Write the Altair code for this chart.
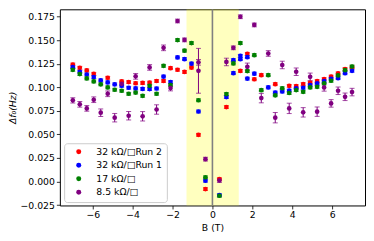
import altair as alt
import pandas as pd

FONT = "DejaVu Sans"

LABELS = ["32 kΩ/□Run 2", "32 kΩ/□Run 1", "17 kΩ/□", "8.5 kΩ/□"]
COLORS = ["#ff0000", "#0000ff", "#008000", "#800080"]

# 32 kOhm Run 2 (red)
RED_X = [-7.0, -6.65, -6.3, -5.95, -5.25, -4.55, -4.2, -3.85, -3.5, -3.15, -2.8, -2.45,
         -2.1, -1.75, -1.4, -1.05, -0.7, -0.35, 0.35, 0.7, 1.4, 1.75, 2.1, 2.45, 3.15,
         3.85, 4.2, 4.55, 4.9, 5.25, 5.6, 5.95, 6.3, 6.65, 7.0]
RED_Y = [0.1243, 0.1208, 0.1180, 0.1144, 0.1102, 0.1063, 0.1056, 0.1044, 0.1047, 0.1050,
         0.1068, 0.1068, 0.1204, 0.1187, 0.1164, 0.1210, 0.0496, -0.0080, 0.0025, 0.0791,
         0.1175, 0.1356, 0.1086, 0.1130, 0.1034, 0.1016, 0.1014, 0.1035, 0.1049, 0.1067,
         0.1088, 0.1114, 0.1148, 0.1195, 0.1215]
RED_ERR = 0.0015

# 32 kOhm Run 1 (blue)
BLUE_X = [-7.0, -6.65, -6.3, -5.95, -5.6, -5.25, -4.9, -4.55, -4.2, -3.85, -3.5, -3.15,
          -2.8, -2.45, -2.1, -1.75, -1.4, -1.05, -0.7, -0.35, 0.35, 0.7, 1.05, 1.05, 1.4,
          1.4, 1.75, 1.75, 2.1, 2.8, 3.15, 3.5, 3.85, 4.2, 4.55, 4.9, 5.25, 5.6, 5.95,
          6.3, 6.65, 7.0]
BLUE_Y = [0.1215, 0.1166, 0.1137, 0.1109, 0.1074, 0.1053, 0.1032, 0.1017, 0.0996, 0.0989,
          0.0984, 0.0982, 0.0988, 0.1115, 0.1056, 0.1318, 0.1300, 0.1252, 0.0744, 0.0009,
          -0.0145, 0.0897, 0.1289, 0.1151, 0.1335, 0.1300, 0.1321, 0.1093, 0.1146, 0.1000,
          0.0945, 0.0956, 0.0965, 0.0990, 0.0996, 0.1024, 0.1042, 0.1067, 0.1091, 0.1098,
          0.1150, 0.1176]
BLUE_ERR = 0.0015

# 17 kOhm (green)
GREEN_X = [-7.0, -6.65, -6.3, -5.95, -5.6, -5.25, -4.9, -4.55, -4.2, -3.85, -3.5, -3.15,
           -2.8, -2.45, -2.1, -1.75, -1.4, -1.05, -0.7, -0.35, 0.35, 0.7, 1.05, 1.4, 1.75,
           2.1, 2.45, 2.8, 3.15, 3.5, 3.85, 4.2, 4.55, 4.9, 5.25, 5.6, 5.95, 6.3, 6.65, 7.0]
GREEN_Y = [0.1186, 0.1141, 0.1095, 0.1063, 0.1032, 0.1000, 0.0975, 0.0964, 0.0932, 0.0945,
           0.0910, 0.1017, 0.0932, 0.1229, 0.1024, 0.1502, 0.1390, 0.1470, 0.0863, 0.0045,
           -0.0151, 0.0929, 0.1254, 0.1470, 0.1173, 0.1342, 0.0970, 0.1130, 0.0916, 0.0991,
           0.0940, 0.0971, 0.0953, 0.1000, 0.1006, 0.1042, 0.1070, 0.1127, 0.1183, 0.1222]
GREEN_ERR = 0.0015

# 8.5 kOhm (purple)
PURPLE_X = [-7.0, -6.65, -6.3, -5.95, -5.6, -5.25, -4.9, -4.55, -4.2, -3.85, -3.5, -3.15,
            -2.8, -2.45, -2.1, -1.75, -1.4, -0.7, -0.7, -0.35, 0.35, 0.7, 1.05, 1.4, 1.75,
            2.1, 2.45, 2.8, 3.15, 3.5, 3.85, 4.2, 4.55, 4.9, 5.25, 5.6, 5.95, 6.3, 6.65, 7.0]
PURPLE_Y = [0.0862, 0.0820, 0.0777, 0.0869, 0.0731, 0.0932, 0.0678, 0.1038, 0.0699, 0.1117,
            0.0693, 0.1212, 0.0765, 0.1420, 0.0993, 0.1705, 0.1504, 0.1266, 0.1176, 0.0238,
            0.0011, 0.1270, 0.1420, 0.1750, 0.1218, 0.1663, 0.0886, 0.1360, 0.0678, 0.1238,
            0.0777, 0.1166, 0.0735, 0.1112, 0.0742, 0.1000, 0.0830, 0.0964, 0.0900, 0.0950]
PURPLE_ERR = [0.0028, 0.003, 0.003, 0.003, 0.004, 0.003, 0.0045, 0.002, 0.0045, 0.003,
              0.005, 0.003, 0.005, 0.003, 0.003, 0.002, 0.002, 0.003, 0.0238, 0.002,
              0.002, 0.004, 0.002, 0.002, 0.004, 0.002, 0.005, 0.003, 0.0055, 0.004,
              0.0055, 0.004, 0.005, 0.004, 0.005, 0.004, 0.004, 0.004, 0.004, 0.004]

BAND = [-1.3, 1.32]
VLINE = [0.0]
X_TICKS = [-6, -4, -2, 0, 2, 4, 6]
Y_TICKS = [-0.025, 0.0, 0.025, 0.05, 0.075, 0.1, 0.125, 0.15, 0.175]

rows = []
def add(label, xs, ys, errs):
    for i, (xv, yv) in enumerate(zip(xs, ys)):
        e = errs[i] if isinstance(errs, list) else errs
        rows.append({"series": label, "B": xv, "df": yv, "lo": yv - e, "hi": yv + e})

add(LABELS[0], RED_X, RED_Y, RED_ERR)
add(LABELS[1], BLUE_X, BLUE_Y, BLUE_ERR)
add(LABELS[2], GREEN_X, GREEN_Y, GREEN_ERR)
add(LABELS[3], PURPLE_X, PURPLE_Y, PURPLE_ERR)
df = pd.DataFrame(rows)

W, H = 306, 196.7
xscale = alt.Scale(domain=[-7.65, 7.65], nice=False, zero=False)
yscale = alt.Scale(domain=[-0.0254, 0.1829], nice=False, zero=False)

xaxis = alt.Axis(values=X_TICKS, format="d", title="B (T)", labelOverlap=False)
yaxis = alt.Axis(values=Y_TICKS, format=".3f", title="Δf₀(Hz)", titleFontStyle="italic",
                 labelOverlap=False, tickCount=len(Y_TICKS))

band = alt.Chart(pd.DataFrame({"a": [BAND[0]], "b": [BAND[1]]})).mark_rect(
    color="#ffff00", opacity=0.25
).encode(
    x=alt.X("a:Q", scale=xscale, axis=xaxis),
    x2="b:Q",
    y=alt.value(0),
    y2=alt.value(H),
)

vline = alt.Chart(pd.DataFrame({"v": VLINE})).mark_rule(
    color="#808080", strokeWidth=1.6
).encode(x=alt.X("v:Q", scale=xscale, axis=xaxis))

def cscale():
    return alt.Scale(domain=LABELS, range=COLORS)

bars = alt.Chart(df).mark_rule(strokeWidth=1).encode(
    x=alt.X("B:Q", scale=xscale, axis=xaxis),
    y=alt.Y("lo:Q", scale=yscale, axis=yaxis),
    y2="hi:Q",
    color=alt.Color("series:N", scale=cscale(), legend=None),
)
cap_lo = alt.Chart(df).mark_tick(orient="horizontal", size=5, thickness=1).encode(
    x=alt.X("B:Q", scale=xscale, axis=xaxis),
    y=alt.Y("lo:Q", scale=yscale, axis=yaxis),
    color=alt.Color("series:N", scale=cscale(), legend=None),
)
cap_hi = alt.Chart(df).mark_tick(orient="horizontal", size=5, thickness=1).encode(
    x=alt.X("B:Q", scale=xscale, axis=xaxis),
    y=alt.Y("hi:Q", scale=yscale, axis=yaxis),
    color=alt.Color("series:N", scale=cscale(), legend=None),
)

points = alt.Chart(df).mark_circle(size=22, opacity=1).encode(
    x=alt.X("B:Q", scale=xscale, axis=xaxis),
    y=alt.Y("df:Q", scale=yscale, axis=yaxis),
    color=alt.Color("series:N", scale=cscale(),
                    sort=LABELS,
                    legend=alt.Legend(title=None, orient="none", legendX=4.3, legendY=134.3,
                                      symbolType="circle", symbolSize=25,
                                      fillColor="white", strokeColor="#cccccc",
                                      cornerRadius=3, padding=4, symbolOffset=6,
                                      labelOffset=13, rowPadding=3.5,
                                      labelFont=FONT, labelFontSize=9.3, labelColor="black")),
)

chart = alt.layer(band, vline, bars, cap_lo, cap_hi, points).resolve_scale(
    color="independent"
).properties(
    width=W, height=H,
    autosize=alt.AutoSizeParams(type="none"),
    padding={"left": 52, "top": 1, "right": 1, "bottom": 33},
).configure_view(
    stroke="black", strokeWidth=1
).configure_axis(
    grid=False, domain=False, tickColor="black", tickSize=3.5, tickWidth=0.8,
    labelFont=FONT, labelFontSize=9.3, labelColor="black", labelPadding=2,
    labelOverlap=False, labelFlush=False,
    titleFont=FONT, titleFontSize=9.3, titleFontWeight="normal", titleColor="black",
).configure_axisX(titlePadding=3).configure_axisY(titlePadding=3)

chart.save("out.html", embed_options={"renderer": "svg", "actions": False})
